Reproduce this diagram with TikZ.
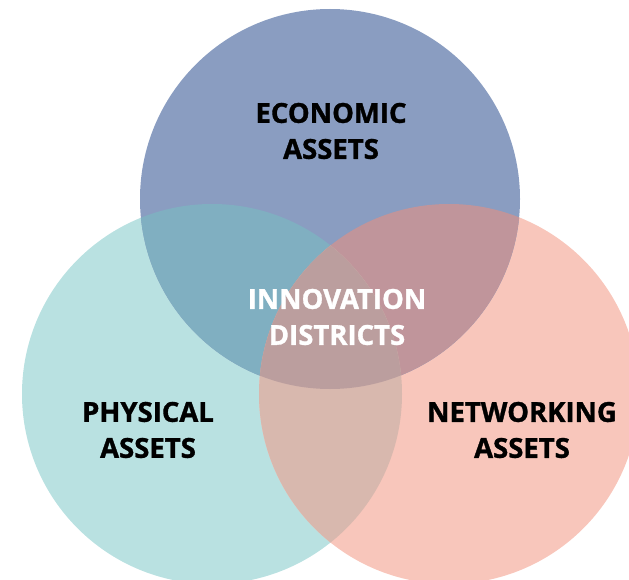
\documentclass[tikz,border=0pt]{standalone}
\usepackage{fontspec}
\setmainfont{Open Sans}[BoldFeatures={FakeBold=1.2}]
\usepackage{xcolor}
\usepackage{tikz}

\definecolor{econ}{HTML}{8A9DC1}
\definecolor{phys}{HTML}{B9E1E1}
\definecolor{netw}{HTML}{F8C6BB}
\definecolor{econphys}{HTML}{80AFC1}
\definecolor{econnetw}{HTML}{C0959B}
\definecolor{physnetw}{HTML}{D8B8AE}
\definecolor{allthree}{HTML}{BB9E9E}

\tikzset{
  assetlabel/.style={font=\fontsize{27.5}{36}\selectfont\bfseries,align=center,text=black},
}

\begin{document}
\begin{tikzpicture}[x=1pt,y=-1pt]
  \useasboundingbox (0,0) rectangle (629,580);
  \coordinate (ctop) at (330,199);
  \coordinate (cleft) at (212,394);
  \coordinate (cright) at (449,394);
  \fill[phys] (cleft) circle (190);
  \fill[netw] (cright) circle (190);
  \fill[econ] (ctop) circle (190);
  \begin{scope}
    \clip (ctop) circle (190);
    \fill[econphys] (cleft) circle (190);
    \fill[econnetw] (cright) circle (190);
  \end{scope}
  \begin{scope}
    \clip (cleft) circle (190);
    \fill[physnetw] (cright) circle (190);
    \clip (cright) circle (190);
    \fill[allthree] (ctop) circle (190);
  \end{scope}
  \node[assetlabel] (economic) at (331,131) {ECONOMIC\\ASSETS};
  \node[assetlabel] (physical) at (148,430) {PHYSICAL\\ASSETS};
  \node[assetlabel] (networking) at (522,430) {NETWORKING\\ASSETS};
  \node[assetlabel,text=white] (innovation) at (337,317) {INNOVATION\\DISTRICTS};
\end{tikzpicture}
\end{document}
